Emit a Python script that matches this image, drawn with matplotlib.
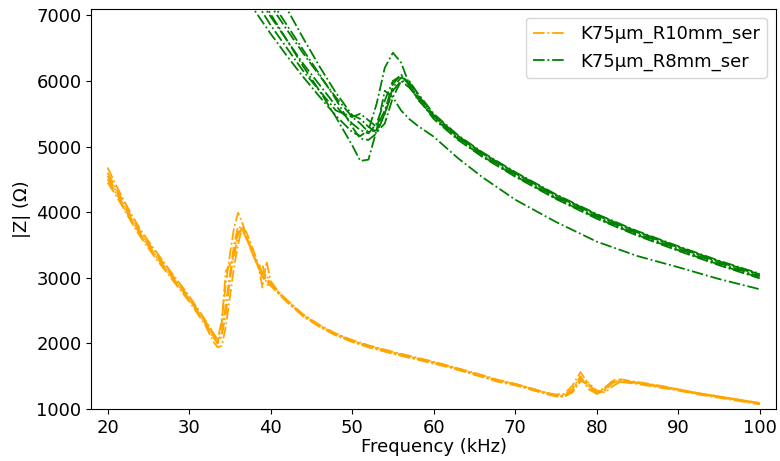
import matplotlib
matplotlib.use("Agg")
import matplotlib.pyplot as plt

# Frequency grid (kHz) for the R10mm sweeps
freq_r10 = [20, 21, 22, 23, 24, 25, 26, 27, 28, 29,
            30, 31, 32, 33, 33.5, 34, 34.5, 35, 35.5, 36,
            36.5, 37, 37.5, 38, 38.5, 39, 39.5, 40, 41, 42,
            44, 46, 48, 50, 52, 55, 58, 60, 62, 65,
            68, 70, 72, 74, 75, 76, 77, 78, 79, 80,
            81, 82, 83, 85, 88, 90, 92, 95, 98, 100]

# |Z| (ohm) for each R10mm sweep
r10_run1 = [4550, 4330, 4100, 3880, 3680, 3500, 3330, 3170, 3000, 2840,
            2680, 2500, 2320, 2100, 2000, 2150, 2600, 3050, 3500, 3780,
            3750, 3600, 3450, 3300, 3150, 3050, 2950, 2900, 2760, 2640,
            2420, 2260, 2130, 2030, 1950, 1850, 1760, 1700, 1640, 1530,
            1420, 1370, 1300, 1230, 1210, 1200, 1290, 1480, 1330, 1240,
            1330, 1420, 1420, 1390, 1330, 1290, 1240, 1180, 1120, 1080]
r10_run2 = [4680, 4420, 4180, 3950, 3740, 3560, 3390, 3220, 3050, 2890,
            2720, 2540, 2350, 2150, 2050, 2350, 2900, 3350, 3750, 3990,
            3850, 3650, 3480, 3320, 3180, 2850, 3250, 2950, 2780, 2660,
            2440, 2280, 2150, 2050, 1970, 1870, 1780, 1720, 1650, 1550,
            1440, 1380, 1310, 1240, 1220, 1230, 1350, 1560, 1380, 1250,
            1300, 1440, 1450, 1410, 1350, 1300, 1250, 1190, 1130, 1090]
r10_run3 = [4450, 4260, 4050, 3830, 3630, 3450, 3280, 3120, 2960, 2800,
            2640, 2460, 2270, 2020, 1940, 1960, 2250, 2700, 3150, 3500,
            3770, 3700, 3550, 3380, 3200, 3080, 2980, 2920, 2780, 2650,
            2430, 2270, 2140, 2040, 1960, 1860, 1770, 1710, 1640, 1540,
            1430, 1380, 1310, 1240, 1200, 1190, 1250, 1420, 1400, 1280,
            1250, 1350, 1420, 1400, 1340, 1300, 1250, 1190, 1130, 1090]
r10_run4 = [4500, 4300, 4070, 3860, 3660, 3480, 3310, 3150, 2990, 2830,
            2670, 2490, 2300, 2080, 2010, 2300, 3100, 3200, 3300, 3650,
            3760, 3620, 3470, 3310, 3160, 3000, 3050, 2900, 2770, 2650,
            2430, 2270, 2140, 2040, 1960, 1860, 1770, 1710, 1650, 1540,
            1430, 1380, 1310, 1240, 1210, 1210, 1300, 1500, 1300, 1230,
            1320, 1430, 1410, 1380, 1320, 1280, 1230, 1170, 1110, 1070]
r10_run5 = [4600, 4370, 4140, 3910, 3710, 3530, 3360, 3200, 3030, 2870,
            2700, 2520, 2340, 2120, 2030, 2100, 2450, 2950, 3400, 3700,
            3720, 3620, 3470, 3310, 3170, 3200, 2900, 2880, 2750, 2630,
            2410, 2250, 2120, 2020, 1940, 1840, 1750, 1690, 1630, 1520,
            1410, 1360, 1290, 1220, 1190, 1180, 1260, 1450, 1350, 1230,
            1280, 1400, 1430, 1400, 1340, 1290, 1240, 1180, 1120, 1080]

# Frequency grid (kHz) for the R8mm sweeps
freq_r8 = [36, 38, 40, 42, 44, 46, 48, 50, 51, 52,
           53, 54, 55, 56, 57, 58, 60, 63, 66, 70,
           75, 80, 85, 90, 95, 100]

# |Z| (ohm) for each R8mm sweep
r8_run1 = [7450, 7080, 6720, 6380, 6060, 5760, 5470, 5220, 5160, 5250,
           5650, 6200, 6430, 6280, 5950, 5720, 5460, 5140, 4890, 4590,
           4250, 3950, 3690, 3460, 3240, 3040]
r8_run2 = [7700, 7350, 6980, 6620, 6260, 5940, 5620, 5350, 5250, 5200,
           5350, 5700, 6000, 6080, 5950, 5780, 5480, 5160, 4900, 4600,
           4260, 3960, 3700, 3470, 3250, 3050]
r8_run3 = [7850, 7500, 7150, 6780, 6420, 6080, 5750, 5450, 5350, 5220,
           5250, 5500, 5900, 6050, 6000, 5820, 5500, 5170, 4910, 4610,
           4270, 3970, 3710, 3480, 3260, 3060]
r8_run4 = [8300, 7950, 7550, 7100, 6650, 6220, 5820, 5480, 5420, 5300,
           5220, 5350, 5750, 6000, 5980, 5800, 5470, 5130, 4870, 4570,
           4230, 3930, 3670, 3440, 3220, 3020]
r8_run5 = [7600, 7250, 6850, 6500, 6150, 5850, 5550, 5450, 5500, 5400,
           5300, 5550, 5950, 6100, 5930, 5740, 5440, 5110, 4850, 4550,
           4210, 3910, 3650, 3420, 3200, 3000]
r8_run6 = [7950, 7600, 7230, 6850, 6470, 6100, 5720, 5300, 5120, 5100,
           5200, 5500, 5850, 6000, 5900, 5750, 5420, 5100, 4840, 4540,
           4200, 3900, 3640, 3410, 3190, 2990]
r8_run7 = [7800, 7420, 7020, 6620, 6220, 5850, 5450, 5020, 4780, 4800,
           5250, 5850, 5750, 5550, 5420, 5320, 5150, 4820, 4530, 4190,
           3850, 3550, 3330, 3160, 2980, 2824]

r10_runs = [r10_run1, r10_run2, r10_run3, r10_run4, r10_run5]
r8_runs = [r8_run1, r8_run2, r8_run3, r8_run4, r8_run5, r8_run6, r8_run7]

series = [
    ("K75µm_R10mm_ser", "orange", freq_r10, r10_runs),
    ("K75µm_R8mm_ser", "green", freq_r8, r8_runs),
]

fig = plt.figure(figsize=(7.8, 4.61), dpi=100)
ax = fig.add_axes([0.117, 0.113, 0.878, 0.868])

for label, color, freq, runs in series:
    for i, z in enumerate(runs):
        ax.plot(freq, z, linestyle="-.", color=color, linewidth=1.3,
                label=label if i == 0 else None)

ax.set_xlim(18, 102)
ax.set_ylim(1000, 7100)
ax.set_xticks([20, 30, 40, 50, 60, 70, 80, 90, 100])
ax.set_yticks([1000, 2000, 3000, 4000, 5000, 6000, 7000])
ax.tick_params(labelsize=13)
ax.set_xlabel("Frequency (kHz)", fontsize=13, labelpad=1)
ax.set_ylabel("|Z| (Ω)", fontsize=13)
ax.legend(loc="upper right", fontsize=13, handlelength=1.8)

fig.savefig("out.png", dpi=100)
